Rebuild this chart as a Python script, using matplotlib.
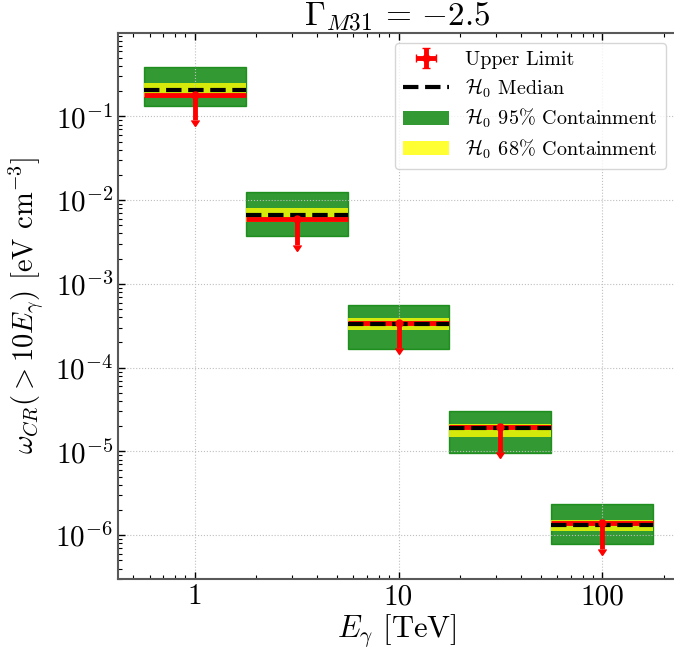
import numpy as np
import matplotlib
matplotlib.use("Agg")
import matplotlib.pyplot as plt
from matplotlib.patches import Patch
from matplotlib.lines import Line2D
from matplotlib.ticker import LogLocator, FuncFormatter, NullFormatter

plt.rcParams['font.family'] = 'serif'
plt.rcParams['font.serif'] = ['cmr10']
plt.rcParams['mathtext.fontset'] = 'cm'
plt.rcParams['axes.formatter.use_mathtext'] = True
plt.rcParams['axes.unicode_minus'] = False

# energy bins [TeV]
E_center = [1.0, 3.162, 10.0, 31.62, 100.0]
E_lo = [0.562, 1.778, 5.623, 17.78, 56.23]
E_hi = [1.778, 5.623, 17.78, 56.23, 177.8]

# upper limits and H0 expectation bands [eV cm^-3]
upper_limit = [0.18, 5.9e-3, 3.4e-4, 1.96e-5, 1.38e-6]
median = [0.208, 6.7e-3, 3.33e-4, 1.89e-5, 1.33e-6]
lo95 = [0.133, 3.72e-3, 1.68e-4, 9.5e-6, 7.8e-7]
hi95 = [0.393, 1.25e-2, 5.57e-4, 3.07e-5, 2.38e-6]
lo68 = [0.169, 5.46e-3, 2.85e-4, 1.49e-5, 1.13e-6]
hi68 = [0.253, 7.96e-3, 3.94e-4, 2.15e-5, 1.53e-6]

fig = plt.figure(figsize=(6.74, 6.56), dpi=100)
# right edge of the axes sits just past the canvas edge
ax = fig.add_axes([118 / 674, 77 / 656, 558 / 674, 546 / 656])

for i in range(len(E_center)):
    xs = [E_lo[i], E_hi[i]]
    ax.fill_between(xs, lo95[i], hi95[i], color='green', alpha=0.8, lw=1, zorder=1)
    ax.fill_between(xs, lo68[i], hi68[i], color='yellow', alpha=0.8, lw=0, zorder=1.5)
    ax.plot(xs, [median[i], median[i]], color='black', ls='--', lw=3, zorder=2.55)

ul = np.array(upper_limit)
xc = np.array(E_center)
xerr = [xc - np.array(E_lo), np.array(E_hi) - xc]
eb = ax.errorbar(xc, ul, xerr=xerr, yerr=0.5 * ul, uplims=True, fmt='o', color='red',
                 ms=5, elinewidth=3.5, zorder=2.5)

ax.set_xscale('log')
ax.set_yscale('log')
ax.set_xlim(0.42, 230)
ax.set_ylim(3e-7, 0.99)

ax.xaxis.set_major_formatter(FuncFormatter(lambda v, p: f"{v:g}"))
ax.xaxis.set_minor_locator(LogLocator(base=10, subs=np.arange(2, 10), numticks=100))
ax.xaxis.set_minor_formatter(NullFormatter())
ax.yaxis.set_major_locator(LogLocator(base=10, numticks=100))
ax.yaxis.set_minor_locator(LogLocator(base=10, subs=np.arange(2, 10), numticks=100))
ax.yaxis.set_minor_formatter(NullFormatter())

ax.tick_params(which='both', direction='in', top=True, right=False, labelsize=21)
ax.tick_params(which='major', length=5, width=1)
ax.tick_params(which='minor', length=3, width=0.8)
for s in ax.spines.values():
    s.set_color('0.35')
    s.set_linewidth(1.5)
ax.spines['right'].set_visible(False)

ax.grid(True, which='major', ls=':', color='0.75', lw=0.8)

ax.set_xlabel(r'$E_\gamma$ [TeV]', fontsize=22, labelpad=2)
ax.set_ylabel(r'$\omega_{CR}(>10E_\gamma)$ [eV cm$^{-3}$]', fontsize=20.5, labelpad=6)
ax.set_title(r'$\Gamma_{M31}\,=\,{-2.5}$', fontsize=24, pad=3)

handles = [
    eb,
    Line2D([], [], color='black', ls='--', lw=3),
    Patch(facecolor='green', alpha=0.8),
    Patch(facecolor='yellow', alpha=0.8),
]
labels = ['Upper Limit', r'$\mathcal{H}_0$ Median', r'$\mathcal{H}_0$ 95% Containment',
          r'$\mathcal{H}_0$ 68% Containment']
ax.legend(handles, labels, loc='upper right', fontsize=14.5, handlelength=2.3,
          labelspacing=0.35)

fig.savefig('out.png', dpi=100)
